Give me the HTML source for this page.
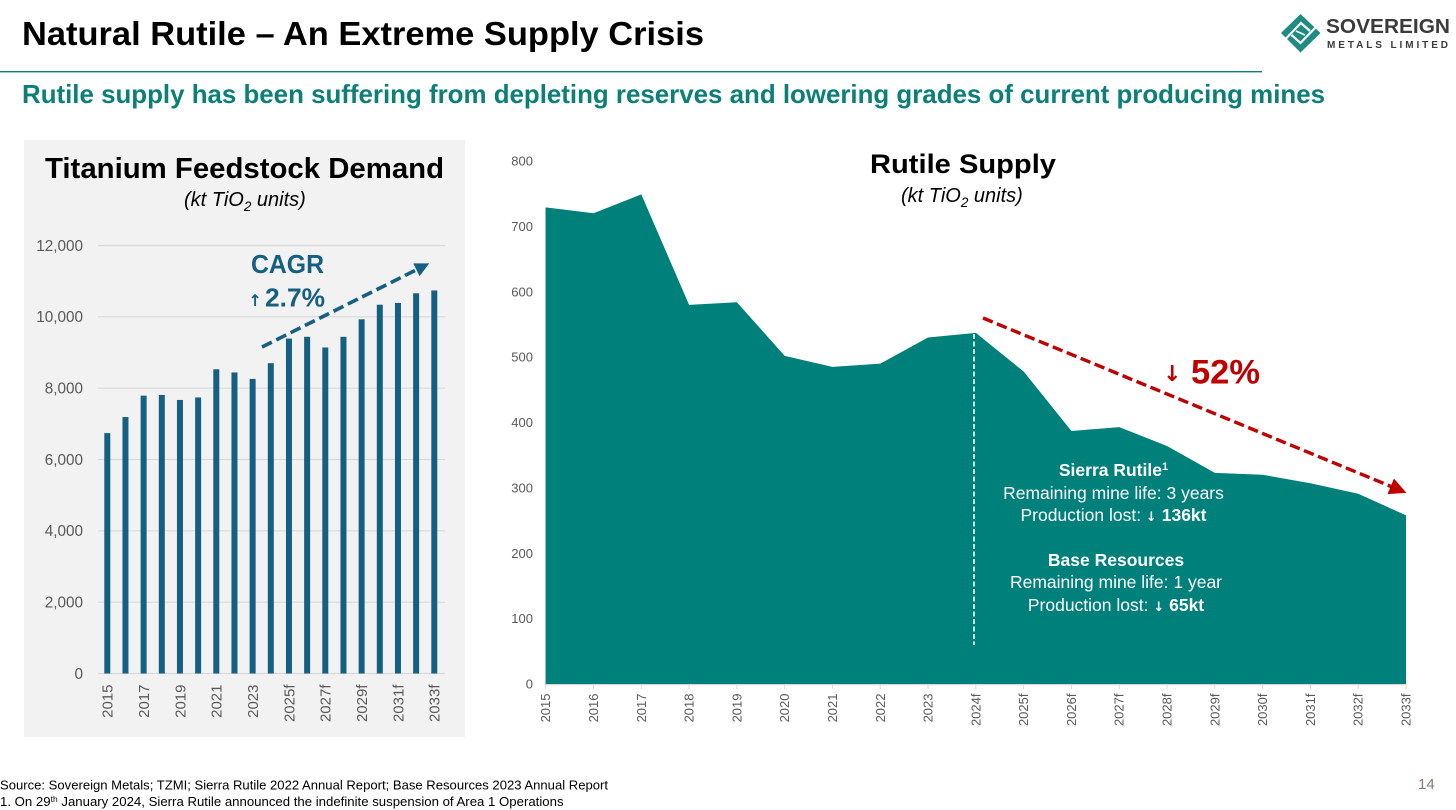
<!DOCTYPE html>
<html lang="en">
<head>
<meta charset="utf-8">
<title>Natural Rutile – An Extreme Supply Crisis</title>
<style>
html,body{margin:0;padding:0;background:#fff;}
body{width:1456px;height:810px;overflow:hidden;}
svg{display:block;}
text{font-family:"Liberation Sans",sans-serif;}
.arr{font-family:"DejaVu Sans",sans-serif;font-weight:700;}
</style>
</head>
<body>
<svg id="slide" width="1456" height="810" viewBox="0 0 1456 810" xmlns="http://www.w3.org/2000/svg">
  <defs>
    <marker id="arrow-blue" markerWidth="4" markerHeight="4" refX="3" refY="2" orient="auto" markerUnits="strokeWidth"><path d="M0,0 L4,2 L0,4 Z" fill="#156082"/></marker>
    <marker id="arrow-red" markerWidth="5" markerHeight="5" refX="3.6" refY="2.5" orient="auto" markerUnits="strokeWidth"><path d="M0,0 L5,2.5 L0,5 Z" fill="#c00000"/></marker>
  </defs>

  <text x="22" y="45" font-size="33" font-weight="700" fill="#000" textLength="682" lengthAdjust="spacingAndGlyphs">Natural Rutile – An Extreme Supply Crisis</text>
  <rect x="0" y="71" width="1262" height="1.4" fill="#0b7f78"/>
  <text x="22" y="103" font-size="26" font-weight="700" fill="#0b7f78" textLength="1303" lengthAdjust="spacingAndGlyphs">Rutile supply has been suffering from depleting reserves and lowering grades of current producing mines</text>

  <g>
    <path d="M1300.5,14 L1320.5,33 L1300.5,52.5 L1281,33 Z" fill="#1f8c82"/>
    <path d="M1286,38.5 L1301,23 L1310,31" fill="none" stroke="#fff" stroke-width="2.2"/>
    <path d="M1315.5,27.5 L1300.5,43 L1291.5,35" fill="none" stroke="#fff" stroke-width="2.2"/>
    <path d="M1296,31 L1305,35" fill="none" stroke="#fff" stroke-width="1.6"/>
    <text x="1326" y="33" font-size="20" font-weight="700" fill="#3b3b3b" textLength="124" lengthAdjust="spacingAndGlyphs">SOVEREIGN</text>
    <text x="1327" y="48" font-size="10" font-weight="700" fill="#3b3b3b" textLength="121" lengthAdjust="spacing">METALS LIMITED</text>
  </g>

  <rect x="24" y="140" width="441" height="597" fill="#f2f2f2"/>
  <text x="45" y="178" font-size="29" font-weight="700" fill="#000" textLength="399" lengthAdjust="spacingAndGlyphs">Titanium Feedstock Demand</text>
  <text x="184" y="206" font-size="20" font-style="italic" fill="#000">(kt TiO<tspan font-size="13.5" dy="5">2</tspan><tspan dy="-5"> units)</tspan></text>
  <g id="demand-grid"></g>
  <g id="demand-y"></g>
  <g id="demand-bars"></g>
  <g id="demand-x"></g>
  <text x="251" y="273" font-size="26" font-weight="700" fill="#156082" textLength="73" lengthAdjust="spacingAndGlyphs">CAGR</text>
  <text class="arr" x="248.5" y="306" font-size="16" fill="#156082">↑</text>
  <text x="265" y="306.5" font-size="26" font-weight="700" fill="#156082" textLength="60" lengthAdjust="spacingAndGlyphs">2.7%</text>
  <line x1="262" y1="347" x2="426" y2="265" stroke="#156082" stroke-width="3.6" stroke-dasharray="11 5" marker-end="url(#arrow-blue)"/>

  <text x="870" y="173" font-size="27" font-weight="700" fill="#000" textLength="186" lengthAdjust="spacingAndGlyphs">Rutile Supply</text>
  <text x="901" y="202" font-size="20" font-style="italic" fill="#000">(kt TiO<tspan font-size="13.5" dy="5">2</tspan><tspan dy="-5"> units)</tspan></text>
  <g id="supply-axes"></g>
  <path id="supply-area" fill="#00807a"/>
  <g id="supply-y"></g>
  <g id="supply-x"></g>
  <line x1="974" y1="334" x2="974" y2="645" stroke="#fff" stroke-width="1.6" stroke-dasharray="5 2.5"/>
  <line x1="983" y1="318" x2="1402" y2="491" stroke="#c00000" stroke-width="3.4" stroke-dasharray="10.5 4.6" marker-end="url(#arrow-red)"/>
  <text class="arr" x="1163" y="381" font-size="22" fill="#c00000">↓</text>
  <text x="1191" y="383.5" font-size="34" font-weight="700" fill="#c00000" textLength="69" lengthAdjust="spacingAndGlyphs">52%</text>

  <g fill="#fff" text-anchor="middle" font-size="17.5">
    <text x="1113.5" y="476" font-weight="700">Sierra Rutile<tspan font-size="11" dy="-6">1</tspan></text>
    <text x="1113.5" y="499">Remaining mine life: 3 years</text>
    <text x="1113.5" y="521">Production lost: <tspan class="arr" font-size="13">↓</tspan><tspan font-weight="700"> 136kt</tspan></text>
    <text x="1116" y="566" font-weight="700">Base Resources</text>
    <text x="1116" y="588">Remaining mine life: 1 year</text>
    <text x="1116" y="611">Production lost: <tspan class="arr" font-size="13">↓</tspan><tspan font-weight="700"> 65kt</tspan></text>
  </g>

  <text x="0" y="789.5" font-size="13" fill="#000" textLength="608" lengthAdjust="spacingAndGlyphs">Source: Sovereign Metals; TZMI; Sierra Rutile 2022 Annual Report; Base Resources 2023 Annual Report</text>
  <text x="0" y="806" font-size="13.2" fill="#000">1. On 29<tspan font-size="8.5" dy="-4">th</tspan><tspan dy="4"> January 2024, Sierra Rutile announced the indefinite suspension of Area 1 Operations</tspan></text>
  <text x="1418" y="789" font-size="15" fill="#8a7a70">14</text>
</svg>

<script>
const demandCategories = ["2015","2016","2017","2018","2019","2020","2021","2022","2023","2024","2025f","2026f","2027f","2028f","2029f","2030f","2031f","2032f","2033f"];
const demandValues = [6740,7190,7790,7810,7670,7740,8530,8440,8260,8700,9390,9440,9140,9440,9930,10340,10390,10660,10740];
const demandTicks = [0,2000,4000,6000,8000,10000,12000];
const supplyCategories = ["2015","2016","2017","2018","2019","2020","2021","2022","2023","2024f","2025f","2026f","2027f","2028f","2029f","2030f","2031f","2032f","2033f"];
const supplyValues = [729,720,749,580,584,502,485,490,530,537,478,387,393,364,323,320,307,291,258];
const supplyTicks = [0,100,200,300,400,500,600,700,800];

const SVGNS = 'http://www.w3.org/2000/svg';
function make(tag, parent, attrs, txt) {
  const el = document.createElementNS(SVGNS, tag);
  for (const k in attrs) el.setAttribute(k, attrs[k]);
  if (txt !== undefined) el.textContent = txt;
  parent.appendChild(el);
  return el;
}

/* demand chart axes */
const demandY = v => 673.5 - (v / 12000) * 428;
const demandX = i => 107.3 + i * (434.3 - 107.3) / (demandCategories.length - 1);

const dGrid = document.getElementById('demand-grid');
const dYAxis = document.getElementById('demand-y');
demandTicks.forEach(t => {
  const ln = make('line', dGrid, {x1: 98, x2: 445, y1: demandY(t), y2: demandY(t), stroke: '#d9d9d9', 'stroke-width': 1.2});
  
  
  const lb = make('text', dYAxis, {x: 83, y: demandY(t) + 5.3, 'text-anchor': 'end', 'font-size': 15.3, fill: '#595959'}, t.toLocaleString('en-US'));
  
  
});

const dBars = document.getElementById('demand-bars');
demandValues.forEach((v, i) => {
  const r = make('rect', dBars, {x: demandX(i) - 3, y: demandY(v), width: 6, height: demandY(0) - demandY(v), fill: '#156082'});
  
  
});

const dXAxis = document.getElementById('demand-x');
demandCategories.forEach((c, i) => {
  if (i % 2) return;
  const x = demandX(i) + 5.3;
  const t = make('text', dXAxis, {x: x, y: 684.5, transform: 'rotate(-90 ' + x + ' 684.5)', 'text-anchor': 'end', 'font-size': 15, fill: '#595959'}, c);
  
  
});

/* supply chart axes */
const supplyY = v => 684 - (v / 800) * 523;
const supplyX = i => 545.7 + i * (1406 - 545.7) / (supplyCategories.length - 1);

const sAxes = document.getElementById('supply-axes');
const axisLeft = make('line', sAxes, {x1: 545.5, x2: 545.5, y1: 208, y2: 685, stroke: '#d9d9d9', 'stroke-width': 1});


const axisBottom = make('line', sAxes, {x1: 545.5, x2: 1406, y1: 684.6, y2: 684.6, stroke: '#d9d9d9', 'stroke-width': 1.2});



let d = 'M' + supplyX(0) + ',' + supplyY(0);
supplyValues.forEach((v, i) => { d += ' L' + supplyX(i) + ',' + supplyY(v); });
d += ' L' + supplyX(supplyValues.length - 1) + ',' + supplyY(0) + ' Z';
document.getElementById('supply-area').setAttribute('d', d);

const sYAxis = document.getElementById('supply-y');
supplyTicks.forEach(t => {
  const lb = make('text', sYAxis, {x: 533, y: supplyY(t) + 4.5, 'text-anchor': 'end', 'font-size': 13, fill: '#595959'}, String(t));
  
  
});

const sXAxis = document.getElementById('supply-x');
supplyCategories.forEach((c, i) => {
  const x = supplyX(i);
  const tick = make('line', sXAxis, {x1: x, x2: x, y1: 685, y2: 689, stroke: '#d9d9d9', 'stroke-width': 1});
  
  
  const lx = x + 4.5;
  const t = make('text', sXAxis, {x: lx, y: 693.5, transform: 'rotate(-90 ' + lx + ' 693.5)', 'text-anchor': 'end', 'font-size': 13, fill: '#595959'}, c);
  
  
});
</script>
</body>
</html>
